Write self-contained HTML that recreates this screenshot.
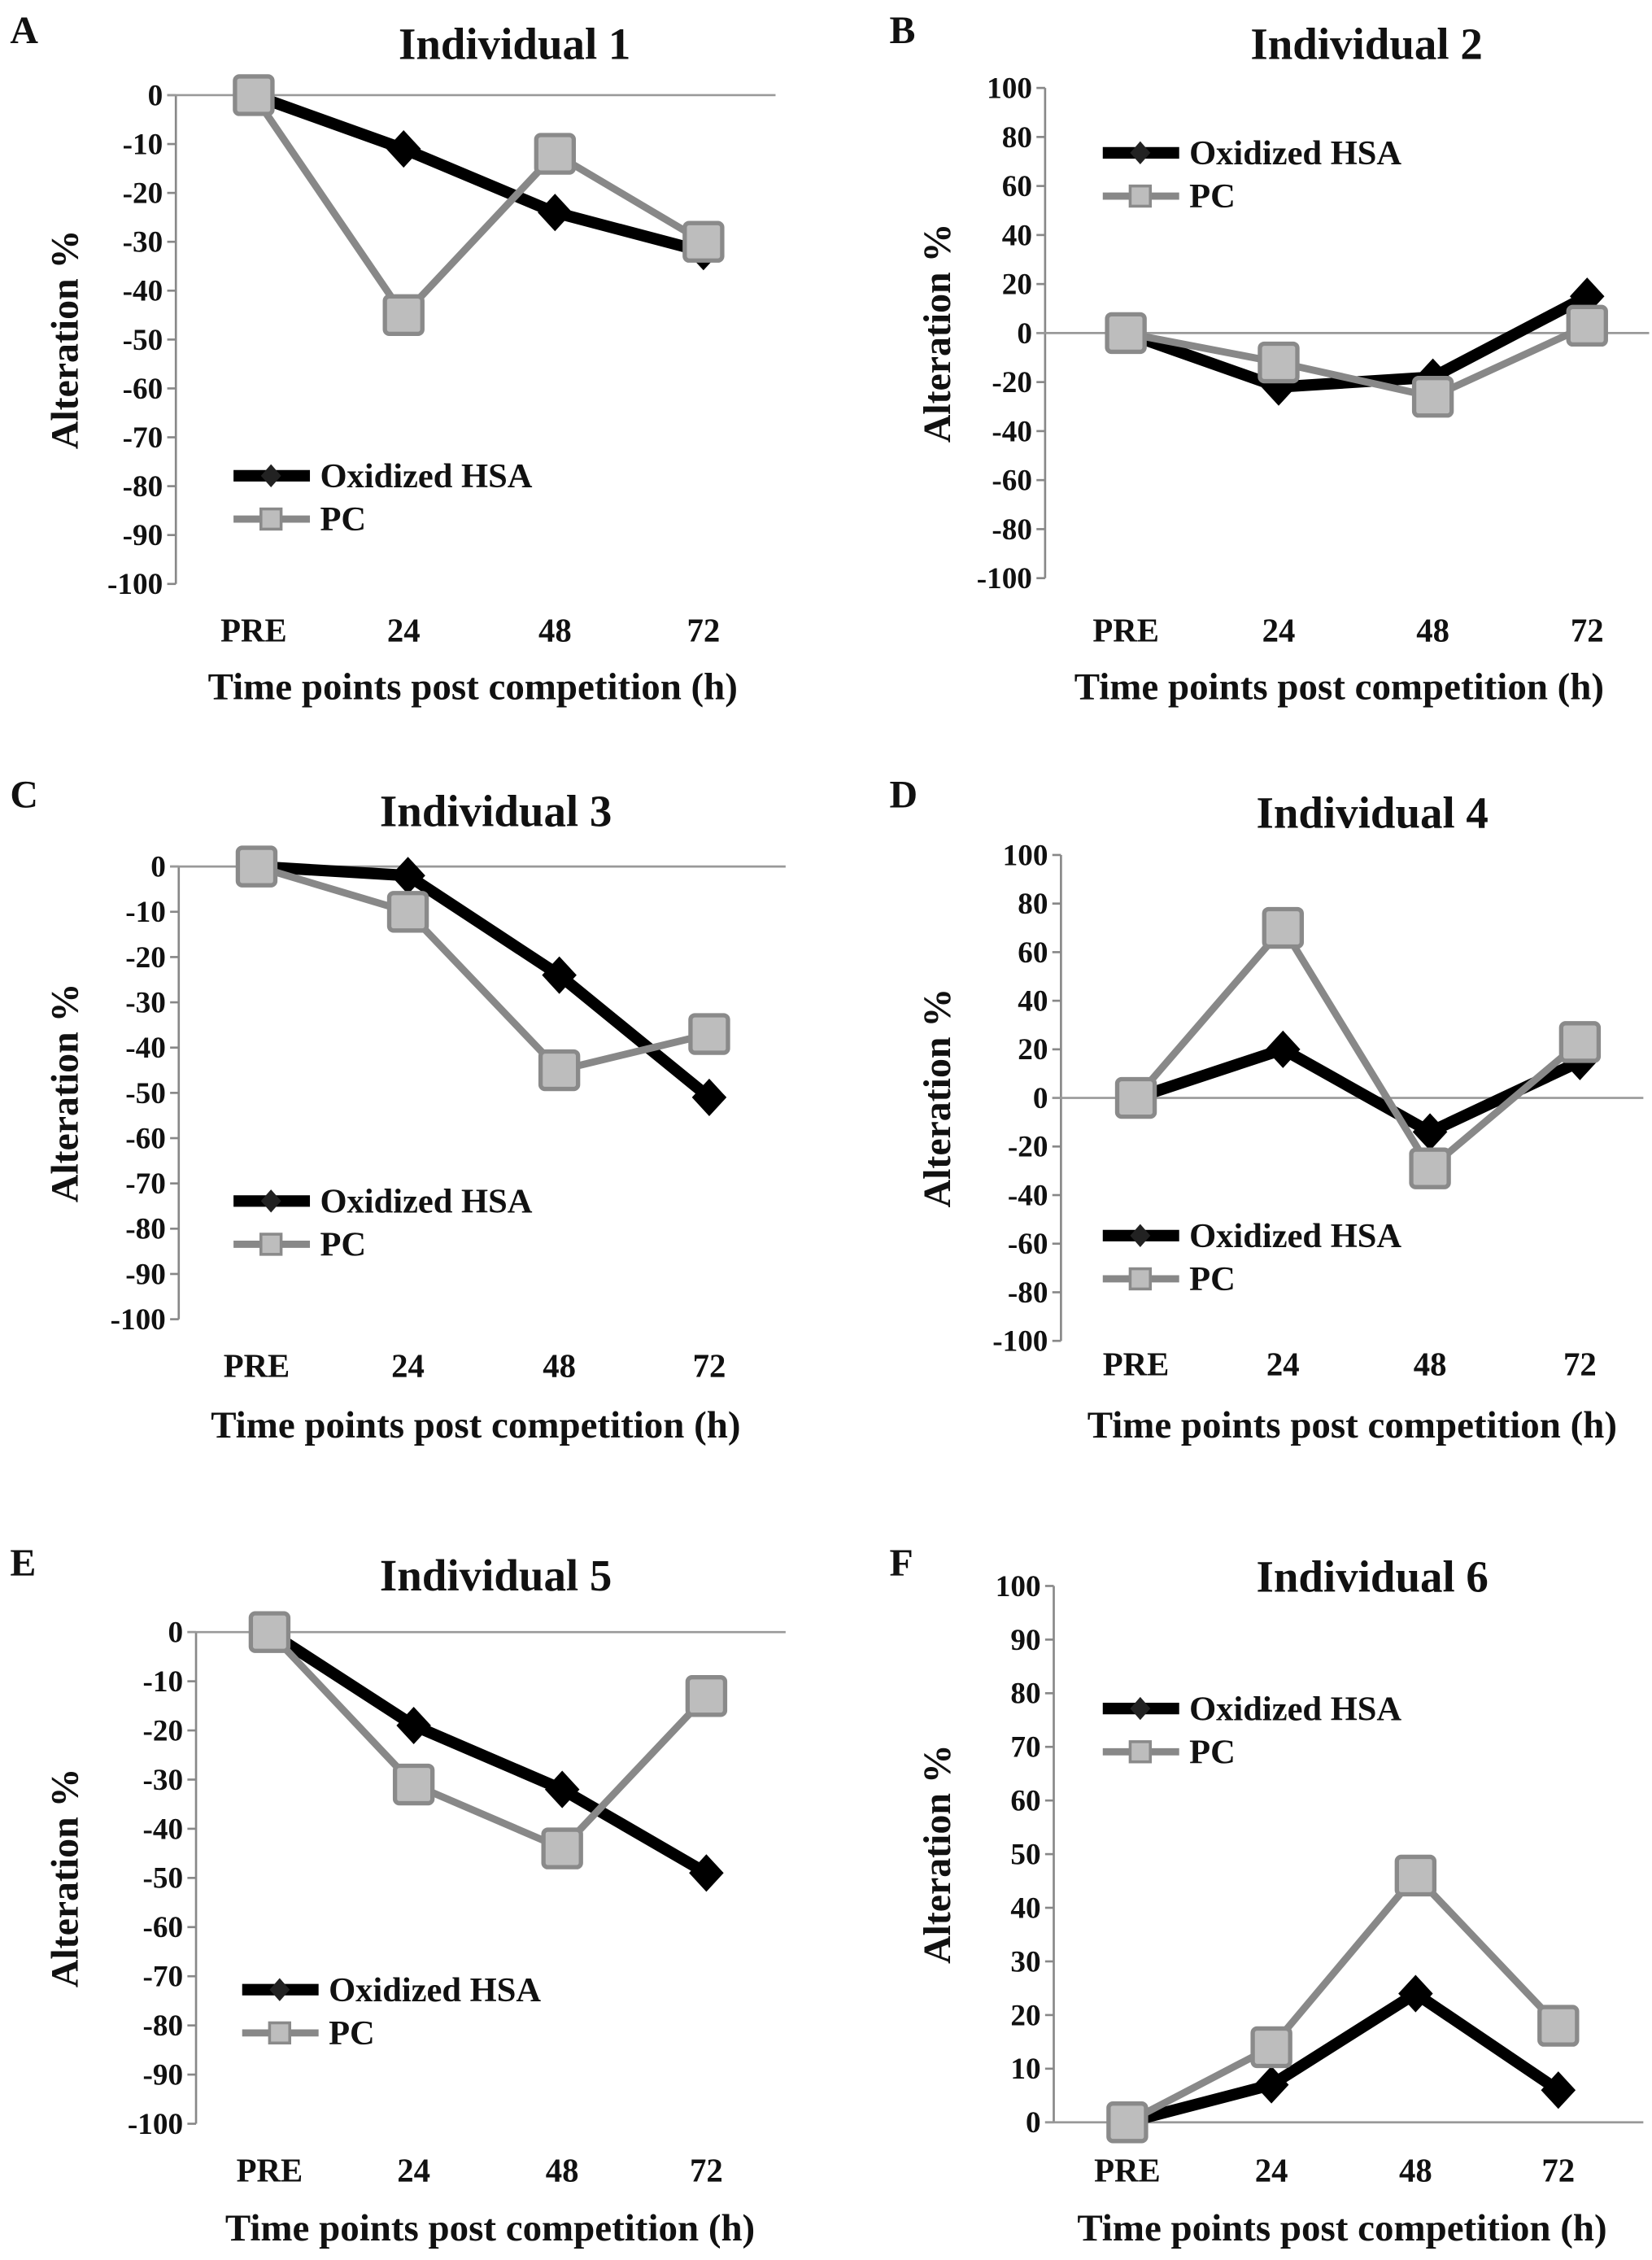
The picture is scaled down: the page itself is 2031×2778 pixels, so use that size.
<!DOCTYPE html>
<html><head><meta charset="utf-8"><style>
html,body{margin:0;padding:0;background:#fff;}
svg{display:block;}
text{font-family:"Liberation Serif",serif;font-weight:bold;fill:#111;}
</style></head>
<body>
<svg id="fig" xmlns="http://www.w3.org/2000/svg" width="2031" height="2778" viewBox="0 0 1146 1567.5" preserveAspectRatio="none"></svg>
<script>
const categories = ["PRE","24","48","72"];
const hsaA = [0,-11,-24,-32];  const pcA = [0,-45,-12,-30];
const hsaB = [0,-22,-18,15];   const pcB = [0,-12,-26,3];
const hsaC = [0,-2,-24,-51];   const pcC = [0,-10,-45,-37];
const hsaD = [0,20,-14,15];    const pcD = [0,70,-29,23];
const hsaE = [0,-19,-32,-49];  const pcE = [0,-31,-44,-13];
const hsaF = [0,7,24,6];       const pcF = [0,14,46,18];
const ticksNeg = [0,-10,-20,-30,-40,-50,-60,-70,-80,-90,-100];
const ticksPM = [100,80,60,40,20,0,-20,-40,-60,-80,-100];
const ticksPos = [100,90,80,70,60,50,40,30,20,10,0];
const titles = ["Individual 1","Individual 2","Individual 3","Individual 4","Individual 5","Individual 6"];
const letters = ["A","B","C","D","E","F"];

const NS="http://www.w3.org/2000/svg";
const svg=document.getElementById('fig');
function mk(tag,attrs,parent){const e=document.createElementNS(NS,tag);for(const k in attrs)e.setAttribute(k,attrs[k]);(parent||svg).appendChild(e);return e;}

const panels=[
 {hsa:hsaA,pc:pcA,ticks:ticksNeg,ax:122,yTop:66,yBot:405,vmax:0,vmin:-100,cx:[176,280,385,488],right:538,tx:357,ty:30,lx:7,ly:20,legY:330,legX:162,xlY:437,xtY:476,xtX:328,ytX:45},
 {hsa:hsaB,pc:pcB,ticks:ticksPM,ax:725,yTop:61,yBot:401,vmax:100,vmin:-100,cx:[781,887,994,1101],right:1144,tx:948,ty:30,lx:617,ly:20,legY:106,legX:765,xlY:437,xtY:476,xtX:929,ytX:650},
 {hsa:hsaC,pc:pcC,ticks:ticksNeg,ax:124,yTop:601,yBot:915,vmax:0,vmin:-100,cx:[178,283,388,492],right:545,tx:344,ty:562,lx:7,ly:550,legY:833,legX:162,xlY:947,xtY:988,xtX:330,ytX:45},
 {hsa:hsaD,pc:pcD,ticks:ticksPM,ax:736,yTop:593,yBot:930,vmax:100,vmin:-100,cx:[788,890,992,1096],right:1140,tx:952,ty:563,lx:617,ly:550,legY:857,legX:765,xlY:946,xtY:988,xtX:938,ytX:650},
 {hsa:hsaE,pc:pcE,ticks:ticksNeg,ax:136,yTop:1132,yBot:1473,vmax:0,vmin:-100,cx:[187,287,390,490],right:545,tx:344,ty:1092,lx:7,ly:1083,legY:1380,legX:168,xlY:1505,xtY:1545,xtX:340,ytX:45},
 {hsa:hsaF,pc:pcF,ticks:ticksPos,ax:731,yTop:1100,yBot:1472,vmax:100,vmin:0,cx:[782,882,982,1081],right:1140,tx:952,ty:1093,lx:617,ly:1083,legY:1185,legX:765,xlY:1505,xtY:1545,xtX:931,ytX:650}
];

panels.forEach((p,i)=>{
  const g=mk('g',{});
  
  
  const y=v=>p.yTop+(p.vmax-v)/(p.vmax-p.vmin)*(p.yBot-p.yTop);
  const x=j=>p.cx[j];
  const lt=mk('text',{x:p.lx,y:p.ly+10,'font-size':27},g);lt.textContent=letters[i];
  
  const tt=mk('text',{x:p.tx,y:p.ty+11,'font-size':31,'text-anchor':'middle'},g);tt.textContent=titles[i];
  
  const axl=mk('line',{x1:p.ax,y1:p.yTop,x2:p.ax,y2:p.yBot,stroke:'#888','stroke-width':1.5},g);
  
  p.ticks.forEach(t=>{
    mk('line',{x1:p.ax-6,y1:y(t),x2:p.ax,y2:y(t),stroke:'#888','stroke-width':1.5},g);
    const tl=mk('text',{x:p.ax-9,y:y(t)+7,'font-size':21,'text-anchor':'end'},g);tl.textContent=t;
    
  });
  const zl=mk('line',{x1:p.ax-6,y1:y(0),x2:p.right,y2:y(0),stroke:'#999','stroke-width':1.5},g);
  
  categories.forEach((c,j)=>{
    const cl=mk('text',{x:x(j),y:p.xlY+8,'font-size':23,'text-anchor':'middle'},g);cl.textContent=c;
    
  });
  const xt=mk('text',{x:p.xtX,y:p.xtY+9,'font-size':26.5,'text-anchor':'middle'},g);xt.textContent='Time points post competition (h)';
  
  const yc=(p.yTop+p.yBot)/2;
  const yt=mk('text',{x:p.ytX+9,y:yc,'font-size':27,'text-anchor':'middle',transform:`rotate(-90 ${p.ytX+9} ${yc})`},g);yt.textContent='Alteration %';
  
  const hp=mk('polyline',{points:p.hsa.map((v,j)=>x(j)+','+y(v)).join(' '),fill:'none',stroke:'#000','stroke-width':8,'stroke-linejoin':'round'},g);
  
  const pp=mk('polyline',{points:p.pc.map((v,j)=>x(j)+','+y(v)).join(' '),fill:'none',stroke:'#888','stroke-width':5,'stroke-linejoin':'round'},g);
  
  p.hsa.forEach((v,j)=>{
    const cx=x(j),cy=y(v);
    const d=mk('polygon',{points:`${cx},${cy-13} ${cx+12},${cy} ${cx},${cy+13} ${cx-12},${cy}`,fill:'#000'},g);
    
  });
  p.pc.forEach((v,j)=>{
    const cx=x(j),cy=y(v);
    const s=mk('rect',{x:cx-13,y:cy-13,width:26,height:26,rx:3,fill:'#bdbdbd',stroke:'#8a8a8a','stroke-width':3},g);
    
  });
  const lg=mk('g',{},g);
  
  const L=p.legX;
  mk('line',{x1:L,y1:p.legY,x2:L+53,y2:p.legY,stroke:'#000','stroke-width':8},lg);
  mk('polygon',{points:`${L+26},${p.legY-8} ${L+33},${p.legY} ${L+26},${p.legY+8} ${L+19},${p.legY}`,fill:'#222'},lg);
  const t1=mk('text',{x:L+60,y:p.legY+8,'font-size':24},lg);t1.textContent='Oxidized HSA';
  
  mk('line',{x1:L,y1:p.legY+30,x2:L+53,y2:p.legY+30,stroke:'#888','stroke-width':5},lg);
  mk('rect',{x:L+19,y:p.legY+23,width:14,height:14,fill:'#bdbdbd',stroke:'#8a8a8a','stroke-width':2},lg);
  const t2=mk('text',{x:L+60,y:p.legY+38,'font-size':24},lg);t2.textContent='PC';
  
});
</script>
</body></html>
